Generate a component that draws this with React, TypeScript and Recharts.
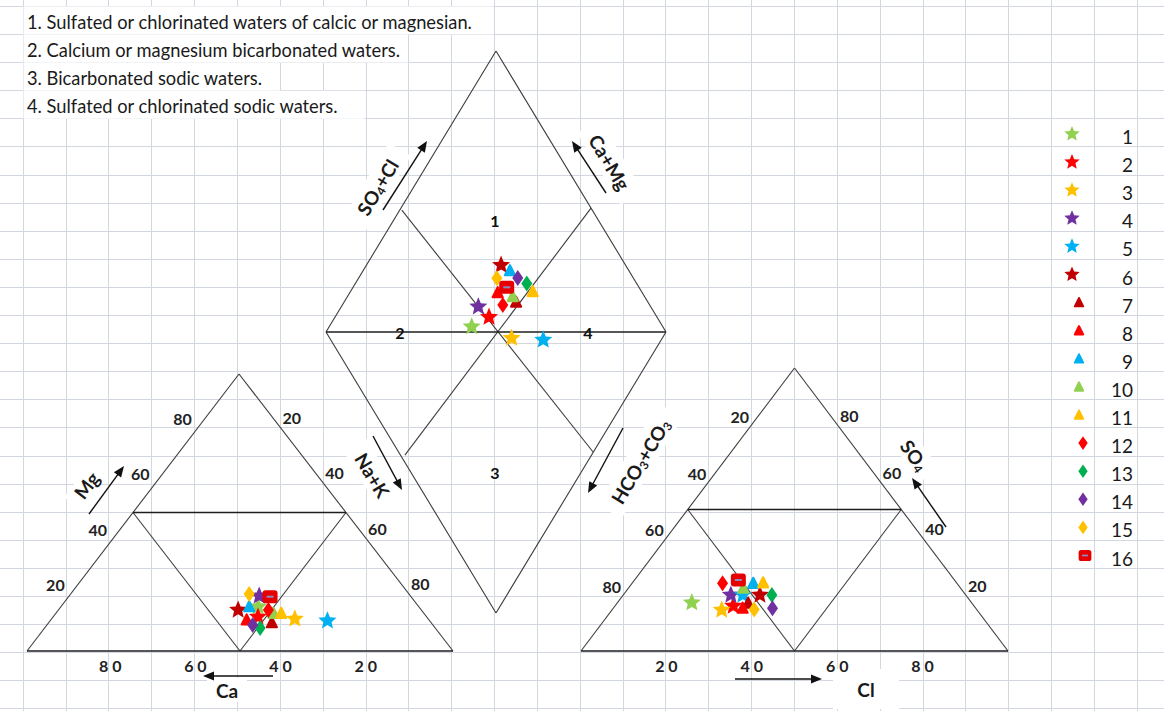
import React from "react";
import {
  ScatterChart,
  Scatter,
  XAxis,
  YAxis,
  CartesianGrid,
  ReferenceLine,
  ReferenceDot,
  Legend,
} from "recharts";

const W = 1164;
const H = 711;
const FONT = "Lato, 'Open Sans', sans-serif";

// ---- data -------------------------------------------------------------
const sampleIds = ["1", "2", "3", "4", "5", "6", "7", "8", "9", "10", "11", "12", "13", "14", "15", "16"];
const sampleColors = [
  "#92d050", "#ff0000", "#ffc000", "#7030a0", "#00b0f0", "#c00000",
  "#c00000", "#ff0000", "#00b0f0", "#92d050", "#ffc000",
  "#ff0000", "#00b050", "#7030a0", "#ffc000", "#e60000",
];
const sampleShapes = [
  "star", "star", "star", "star", "star", "star",
  "triangle", "triangle", "triangle", "triangle", "triangle",
  "diamond", "diamond", "diamond", "diamond", "square",
];

// cations, % meq
const caPct = [37.7, 39.6, 31.3, 35.5, 24.0, 43.0, 37.4, 42.8, 39.8, 35.3, 33.5, 35.9, 41.1, 42.3, 37.5, 33.1];
const mgPct = [16.0, 12.3, 11.6, 19.9, 10.9, 14.8, 10.2, 11.2, 16.0, 13.6, 13.6, 14.8, 8.3, 9.4, 20.6, 19.6];

// anions, % meq
const clPct = [17.4, 27.7, 25.7, 25.2, 28.0, 32.0, 30.7, 30.3, 28.4, 26.9, 30.6, 21.2, 34.8, 37.3, 33.2, 24.3];
const so4Pct = [17.1, 15.9, 14.5, 19.8, 19.8, 19.8, 16.9, 15.1, 23.9, 22.2, 24.1, 23.9, 19.8, 15.1, 14.7, 25.1];

// central diamond
const naKPct = [41.9, 45.3, 55.7, 40.3, 65.3, 39.6, 50.6, 43.5, 43.2, 48.6, 53.6, 47.2, 50.4, 46.8, 40.7, 45.2];
const so4ClPct = [43.8, 50.6, 53.5, 49.3, 62.5, 63.4, 61.2, 57.5, 65.0, 61.2, 68.0, 56.8, 67.7, 66.0, 59.8, 61.1];

const faciesNotes = [
  "1. Sulfated or chlorinated waters of calcic or magnesian.",
  "2. Calcium or magnesium bicarbonated waters.",
  "3. Bicarbonated sodic waters.",
  "4. Sulfated or chlorinated sodic waters.",
];
const faciesIds = ["1", "2", "3", "4"];
const percentTicks = [20, 40, 60, 80];

// ---- geometry (chart units = px, y grows downward) --------------------
type P = { x: number; y: number };
const cat = { ca: { x: 27, y: 651 }, na: { x: 453, y: 651 }, mg: { x: 239, y: 374 } };
const an = { hco3: { x: 581, y: 651 }, cl: { x: 1008, y: 651 }, so4: { x: 794.5, y: 368 } };
const dia = { left: { x: 326, y: 332 }, top: { x: 496, y: 51 }, bottom: { x: 496, y: 613 }, right: { x: 666, y: 332 } };

const lerp = (a: P, b: P, t: number): P => ({ x: a.x + (b.x - a.x) * t, y: a.y + (b.y - a.y) * t });
const shift = (a: P, dx: number, dy: number): P => ({ x: a.x + dx, y: a.y + dy });

const ternary = (va: P, vb: P, vc: P, a: number, b: number): P => {
  const c = 1 - a - b;
  return { x: a * va.x + b * vb.x + c * vc.x, y: a * va.y + b * vb.y + c * vc.y };
};
const cationXY = (ca: number, mg: number) => ternary(cat.ca, cat.mg, cat.na, ca / 100, mg / 100);
const anionXY = (cl: number, so4: number) => ternary(an.cl, an.so4, an.hco3, cl / 100, so4 / 100);
const diamondXY = (naK: number, so4Cl: number): P => ({
  x: dia.left.x + (so4Cl / 100) * (dia.top.x - dia.left.x) + (naK / 100) * (dia.bottom.x - dia.left.x),
  y: dia.left.y + (so4Cl / 100) * (dia.top.y - dia.left.y) + (naK / 100) * (dia.bottom.y - dia.left.y),
});

const series = sampleIds.map((id, i) => ({
  id,
  color: sampleColors[i],
  shape: sampleShapes[i],
  points: [cationXY(caPct[i], mgPct[i]), anionXY(clPct[i], so4Pct[i]), diamondXY(naKPct[i], so4ClPct[i])],
}));

const catL = lerp(cat.ca, cat.mg, 0.5);
const catR = lerp(cat.mg, cat.na, 0.5);
const catB = lerp(cat.ca, cat.na, 0.5);
const anL = lerp(an.hco3, an.so4, 0.5);
const anR = lerp(an.cl, an.so4, 0.5);
const anB = lerp(an.hco3, an.cl, 0.5);

const thinSegments: [P, P][] = [
  [cat.ca, cat.mg], [cat.mg, cat.na], [catL, catB], [catB, catR],
  [an.hco3, an.so4], [an.so4, an.cl], [anL, anB], [anB, anR],
  [dia.left, dia.top], [dia.top, dia.right], [dia.right, dia.bottom], [dia.bottom, dia.left],
  [diamondXY(0.6, 44), diamondXY(99.9, 57.2)],
  [diamondXY(55.9, 100), diamondXY(45.1, 1.3)],
];
const boldSegments: [P, P][] = [
  [cat.ca, cat.na], [catL, catR], [an.hco3, an.cl], [anL, anR], [dia.left, dia.right],
];

const arrows: [P, P][] = [
  [{ x: 89, y: 514 }, { x: 124, y: 466 }],
  [{ x: 273, y: 676 }, { x: 203, y: 676 }],
  [{ x: 383, y: 210 }, { x: 427, y: 141 }],
  [{ x: 606, y: 193 }, { x: 572, y: 141 }],
  [{ x: 373, y: 436 }, { x: 402, y: 490 }],
  [{ x: 623, y: 428 }, { x: 588, y: 493 }],
  [{ x: 946, y: 527 }, { x: 912, y: 478 }],
  [{ x: 735, y: 679 }, { x: 822, y: 679 }],
];

type Part = [string, boolean?];
const titles: { at: P; angle: number; w: number; h: number; parts: Part[] }[] = [
  { at: { x: 86, y: 485 }, angle: -52.6, w: 46, h: 20, parts: [["Mg"]] },
  { at: { x: 227, y: 690 }, angle: 0, w: 40, h: 24, parts: [["Ca"]] },
  { at: { x: 377, y: 187 }, angle: -58.8, w: 88, h: 26, parts: [["SO"], ["4", true], ["+Cl"]] },
  { at: { x: 610, y: 162 }, angle: 58.8, w: 84, h: 26, parts: [["Ca+Mg"]] },
  { at: { x: 373, y: 475 }, angle: 58.8, w: 70, h: 26, parts: [["Na+K"]] },
  { at: { x: 640, y: 461 }, angle: -58.8, w: 118, h: 28, parts: [["HCO"], ["3", true], ["+CO"], ["3", true]] },
  { at: { x: 915, y: 455 }, angle: 55, w: 50, h: 24, parts: [["SO"], ["4", true]] },
  { at: { x: 866, y: 689 }, angle: 0, w: 66, h: 40, parts: [["Cl"]] },
];

const faciesAt: P[] = [
  { x: 495, y: 220 },
  { x: 400, y: 332 },
  { x: 495, y: 472 },
  { x: 588, y: 332 },
];

// spreadsheet-like background grid
const colX = Array.from({ length: 27 }, (_, k) => Math.round(22.7 + 42.85 * k) + 0.5);
const rowY = Array.from({ length: 26 }, (_, k) => Math.round(5.9 + 28.1 * k) + 0.5);
const noteBoxRight = [494, 408, 280, 365];

// ---- marks -------------------------------------------------------------
const starPoints = (cx: number, cy: number, R: number, r: number) =>
  Array.from({ length: 10 }, (_, k) => {
    const a = -Math.PI / 2 + (k * Math.PI) / 5;
    const rad = k % 2 === 0 ? R : r;
    return `${cx + rad * Math.cos(a)},${cy + rad * Math.sin(a)}`;
  }).join(" ");

const Marker = ({ cx, cy, kind, color, s = 1 }: any) => {
  if (kind === "star") return <polygon points={starPoints(cx, cy, 9.5 * s, 4.3 * s)} fill={color} />;
  if (kind === "triangle")
    return (
      <polygon
        points={`${cx},${cy - 5.5 * s} ${cx + 5 * s},${cy + 4.5 * s} ${cx - 5 * s},${cy + 4.5 * s}`}
        fill={color}
        stroke={color}
        strokeWidth={2.2 * s}
        strokeLinejoin="round"
      />
    );
  if (kind === "diamond")
    return <polygon points={`${cx},${cy - 8 * s} ${cx + 5.5 * s},${cy} ${cx},${cy + 8 * s} ${cx - 5.5 * s},${cy}`} fill={color} />;
  return (
    <g>
      <rect x={cx - 7.5 * s} y={cy - 6.5 * s} width={15 * s} height={13 * s} rx={3 * s} fill={color} />
      <rect x={cx - 3.5 * s} y={cy - 1 * s} width={7 * s} height={2 * s} fill="#8d8bc6" />
    </g>
  );
};

const legendX: Record<string, number> = { star: 32, triangle: 39, diamond: 43, square: 45 };

// legend keeps the sample order 1..16
const SampleLegend = ({ payload }: any) => {
  const items = [...(payload || [])].sort(
    (a: any, b: any) => sampleIds.indexOf(String(a.value)) - sampleIds.indexOf(String(b.value))
  );
  return (
    <svg width={110} height={452}>
      {items.map((entry: any) => {
        const i = sampleIds.indexOf(String(entry.value));
        return (
          <g key={entry.value}>
            <Marker cx={legendX[sampleShapes[i]]} cy={16 + 28.1 * i} kind={sampleShapes[i]} color={entry.color} s={0.85} />
            <text x={93} y={18.5 + 28.1 * i} textAnchor="end" dominantBaseline="central" fontFamily={FONT} fontSize={19} fill="#1a1a1a">
              {entry.value}
            </text>
          </g>
        );
      })}
    </svg>
  );
};

// text helpers rendered through ReferenceDot so they sit in chart units
const textDot = (key: string, p: P, draw: (cx: number, cy: number) => React.ReactNode) => (
  <ReferenceDot key={key} x={p.x} y={p.y} r={0} ifOverflow="visible" shape={(s: any) => <g>{draw(s.cx, s.cy)}</g>} />
);

const tickLabel = (key: string, p: P, label: string) =>
  textDot(key, p, (cx, cy) => (
    <text x={cx} y={cy} textAnchor="middle" dominantBaseline="central" fontFamily={FONT} fontSize={16} fontWeight={700} fill="#222">
      {label}
    </text>
  ));

const spaced = (v: number) => String(v).split("").join(" ");

const arrowHead = (from: P, to: P) => {
  const ang = (Math.atan2(to.y - from.y, to.x - from.x) * 180) / Math.PI;
  return (s: any) => (
    <polygon
      points={`${s.cx},${s.cy} ${s.cx - 11},${s.cy - 4.5} ${s.cx - 11},${s.cy + 4.5}`}
      transform={`rotate(${ang} ${s.cx} ${s.cy})`}
      fill="#111"
    />
  );
};

export default function App() {
  return (
    <div style={{ position: "absolute", left: 0, top: 0, width: W, height: H, background: "#fff" }}>
      <ScatterChart width={W} height={H} margin={{ top: 0, right: 0, bottom: 0, left: 0 }}>
        <XAxis type="number" dataKey="x" domain={[0, W]} allowDataOverflow hide />
        <YAxis type="number" dataKey="y" domain={[0, H]} reversed allowDataOverflow hide />
        <CartesianGrid stroke="#d3d7e0" strokeWidth={1} verticalPoints={colX} horizontalPoints={rowY} />

        {/* facies notes, top left */}
        {faciesNotes.map((note, i) =>
          textDot(`note-${i}`, { x: 27, y: 5.9 + 28.1 * (i + 0.5) + 2 }, (cx, cy) => (
            <>
              <rect x={23.5} y={cy - 15.5} width={noteBoxRight[i] - 24} height={28} fill="#fff" />
              <text x={cx} y={cy} dominantBaseline="central" fontFamily={FONT} fontSize={18.3} fill="#1a1a1a">
                {note}
              </text>
            </>
          ))
        )}

        {/* axis titles on white boxes */}
        {titles.map((t, i) =>
          textDot(`title-${i}`, t.at, (cx, cy) => (
            <g transform={`rotate(${t.angle} ${cx} ${cy})`}>
              <rect x={cx - t.w / 2} y={cy - t.h / 2} width={t.w} height={t.h} fill="#fff" />
              <text x={cx} y={cy} textAnchor="middle" dominantBaseline="central" fontFamily={FONT} fontSize={19} fontWeight={700} fill="#1a1a1a">
                {t.parts.map(([txt, sub], k) => (
                  <tspan key={k} fontSize={sub ? 12 : 19} dy={sub ? 5 : k > 0 && t.parts[k - 1][1] ? -5 : 0}>
                    {txt}
                  </tspan>
                ))}
              </text>
            </g>
          ))
        )}

        {thinSegments.map((seg, i) => (
          <ReferenceLine key={`thin-${i}`} segment={seg} stroke="#3c3c3c" strokeWidth={1.1} />
        ))}
        {boldSegments.map((seg, i) => (
          <ReferenceLine key={`bold-${i}`} segment={seg} stroke="#1e1e1e" strokeWidth={1.6} />
        ))}

        {arrows.map(([from, to], i) => (
          <ReferenceLine key={`arrow-${i}`} segment={[from, lerp(from, to, 0.9)]} stroke="#111" strokeWidth={1.4} />
        ))}
        {arrows.map(([from, to], i) => (
          <ReferenceDot key={`head-${i}`} x={to.x} y={to.y} r={0} ifOverflow="visible" shape={arrowHead(from, to)} />
        ))}

        {/* percentage labels */}
        {percentTicks.map((t) => tickLabel(`cl-${t}`, shift(lerp(cat.ca, cat.mg, t / 100), -14, -11), String(t)))}
        {percentTicks.map((t) => tickLabel(`cr-${t}`, shift(lerp(cat.mg, cat.na, t / 100), 10, -12), String(t)))}
        {percentTicks.map((t) => tickLabel(`cb-${t}`, shift(lerp(cat.na, cat.ca, t / 100), -2, 14), spaced(t)))}
        {percentTicks.map((t) => tickLabel(`al-${t}`, shift(lerp(an.so4, an.hco3, t / 100), -12, -8), String(t)))}
        {percentTicks.map((t) => tickLabel(`ar-${t}`, shift(lerp(an.cl, an.so4, t / 100), 12, -9), String(t)))}
        {percentTicks.map((t) => tickLabel(`ab-${t}`, shift(lerp(an.hco3, an.cl, t / 100), 0, 14), spaced(t)))}

        {faciesIds.map((id, i) =>
          textDot(`facies-${id}`, faciesAt[i], (cx, cy) => (
            <text x={cx} y={cy} textAnchor="middle" dominantBaseline="central" fontFamily={FONT} fontSize={16} fontWeight={700} fill="#111">
              {id}
            </text>
          ))
        )}

        {series.map((s) => (
          <Scatter
            key={s.id}
            name={s.id}
            data={s.points}
            fill={s.color}
            isAnimationActive={false}
            shape={(p: any) => <Marker cx={p.cx} cy={p.cy} kind={s.shape} color={s.color} />}
          />
        ))}

        <Legend
          layout="vertical"
          align="center"
          verticalAlign="middle"
          width={110}
          height={452}
          wrapperStyle={{ left: 1040, top: 118, width: 110, height: 452 }}
          content={(props: any) => <SampleLegend payload={props.payload} />}
        />
      </ScatterChart>
    </div>
  );
}
